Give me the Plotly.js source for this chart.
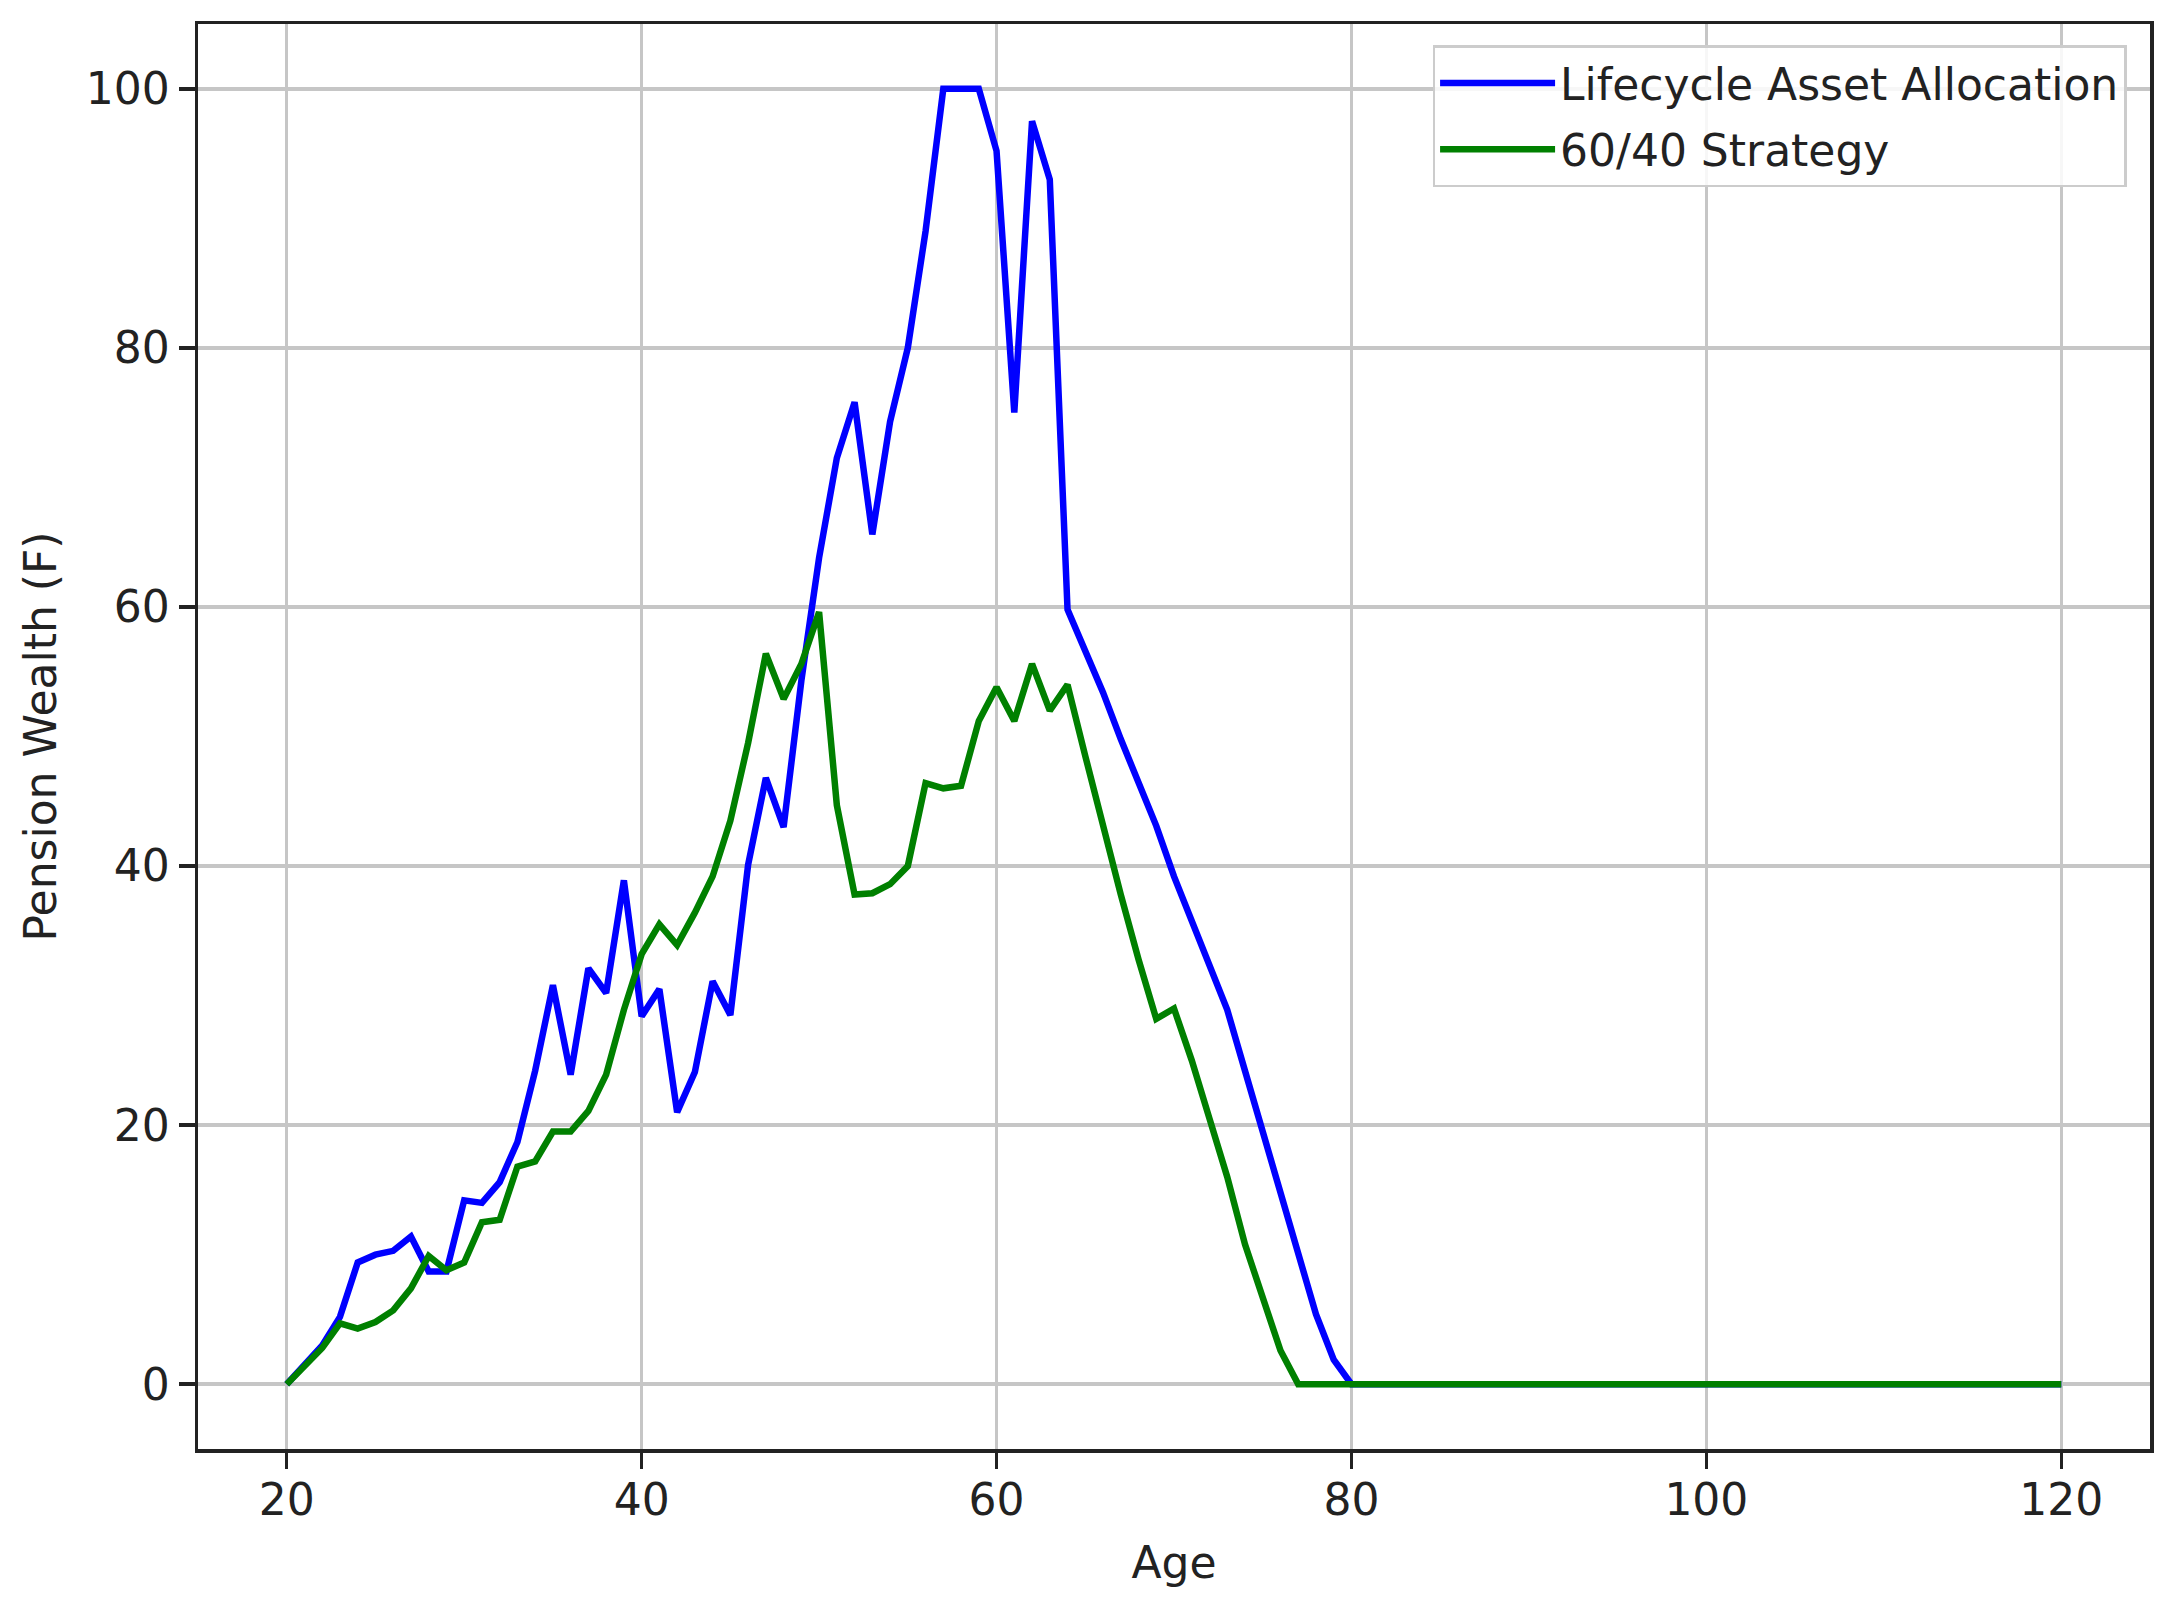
<!DOCTYPE html>
<html>
<head>
<meta charset="utf-8">
<script src="https://cdn.plot.ly/plotly-3.0.1.min.js"></script>
<style>html,body{margin:0;padding:0;background:#fff;}#chart{width:2175px;height:1600px;}</style>
</head>
<body>
<div id="chart"></div>
<script>
const ages = [20,21,22,23,24,25,26,27,28,29,30,31,32,33,34,35,36,37,38,39,40,41,42,43,44,45,46,47,48,49,50,51,52,53,54,55,56,57,58,59,60,61,62,63,64,65,66,67,68,69,70,71,72,73,74,75,76,77,78,79,80,81,82,83,84,85,86,87,88,89,90,91,92,93,94,95,96,97,98,99,100,101,102,103,104,105,106,107,108,109,110,111,112,113,114,115,116,117,118,119,120];

const lifecycle = [
  0,1.5,3.0,5.2,9.4,10.0,10.3,11.4,8.7,8.7,
  14.2,14.0,15.6,18.7,24.2,30.8,23.9,32.1,30.2,38.9,
  28.4,30.5,21.0,24.1,31.1,28.5,40.1,46.8,43.0,54.3,
  63.8,71.5,75.8,65.6,74.3,80.0,89.0,100,100,100,
  95.2,75.0,97.5,93.0,59.8,56.7,53.4,49.8,46.5,43.1,
  39.2,35.8,32.3,28.9,24.2,19.5,14.8,10.1,5.4,1.9,
  0,0,0,0,0,0,0,0,0,0,
  0,0,0,0,0,0,0,0,0,0,
  0,0,0,0,0,0,0,0,0,0,
  0,0,0,0,0,0,0,0,0,0,
  0
];

const strategy6040 = [
  0,1.4,2.8,4.7,4.3,4.8,5.7,7.4,9.9,8.8,
  9.4,12.5,12.7,16.8,17.2,19.5,19.5,21.1,23.9,28.9,
  33.2,35.5,33.9,36.4,39.2,43.5,49.5,56.4,52.9,55.6,
  59.6,44.7,37.8,37.9,38.6,40.0,46.4,46.0,46.2,51.2,
  53.8,51.2,55.6,52.0,54.0,48.5,43.0,37.8,32.8,28.2,
  29.0,25.0,20.5,16.0,10.8,6.5,2.6,0,0,0,
  0,0,0,0,0,0,0,0,0,0,
  0,0,0,0,0,0,0,0,0,0,
  0,0,0,0,0,0,0,0,0,0,
  0,0,0,0,0,0,0,0,0,0,
  0
];

const seriesNames = ["Lifecycle Asset Allocation", "60/40 Strategy"];
const xTicks = [20,40,60,80,100,120];
const yTicks = [0,20,40,60,80,100];

const font = {family: "DejaVu Sans", size: 44, color: "#222"};

const traces = [
  {x: ages, y: lifecycle, name: seriesNames[0], type: "scatter", mode: "lines",
   line: {color: "#0000ff", width: 6.5}, legendgroup: "a"},
  {x: ages, y: strategy6040, name: seriesNames[1], type: "scatter", mode: "lines",
   line: {color: "#008000", width: 6.5}, legendgroup: "b"}
];

const axisCommon = {
  showgrid: true, gridcolor: "#c6c6c6", gridwidth: 3.5,
  zeroline: false, showline: true, mirror: true, linecolor: "#222", linewidth: 3.5,
  ticks: "outside", ticklen: 16, tickwidth: 3.5, tickcolor: "#222",
  tickfont: font, automargin: false
};

const layout = {
  width: 2175, height: 1600,
  paper_bgcolor: "#fff", plot_bgcolor: "#fff",
  margin: {l: 198, r: 25, t: 24, b: 151},
  font: font,
  showlegend: true,
  xaxis: Object.assign({}, axisCommon, {
    range: [15, 125], tickvals: xTicks, ticktext: xTicks.map(String),
    ticklabelstandoff: -6,
    title: {text: "Age", font: font, standoff: 24}
  }),
  yaxis: Object.assign({}, axisCommon, {
    range: [-5, 105], tickvals: yTicks, ticktext: yTicks.map(String),
    title: {text: "Pension Wealth (F)", font: font, standoff: 16}
  }),
  legend: {
    x: 0.988, y: 0.985, xanchor: "right", yanchor: "top",
    bgcolor: "rgba(255,255,255,0.85)", bordercolor: "#cccccc", borderwidth: 2.5,
    font: font, itemwidth: 115, traceorder: "grouped", tracegroupgap: 6
  }
};

Plotly.newPlot("chart", traces, layout, {staticPlot: true, displayModeBar: false});
</script>
</body>
</html>
